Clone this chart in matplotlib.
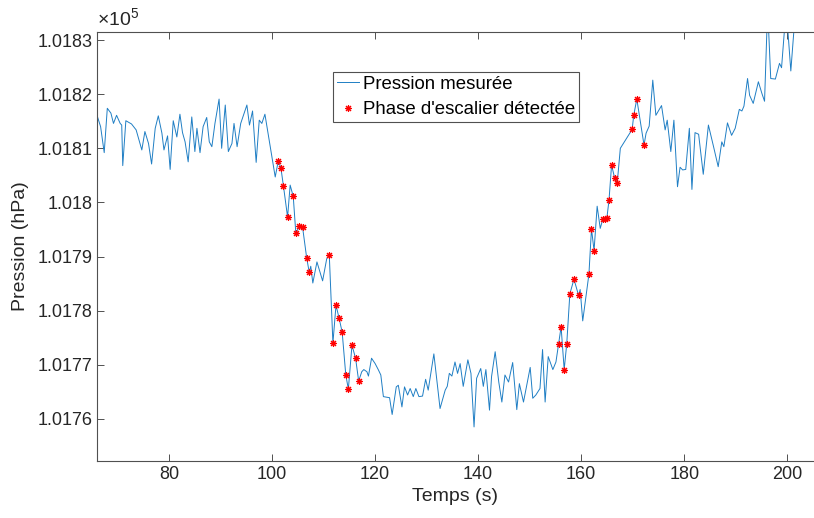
import numpy as np
import matplotlib
matplotlib.use("Agg")
import matplotlib.pyplot as plt
from matplotlib.ticker import MultipleLocator, FuncFormatter

plt.rcParams['font.family'] = ['Liberation Sans', 'DejaVu Sans']
plt.rcParams['mathtext.fontset'] = 'custom'
plt.rcParams['mathtext.rm'] = 'Liberation Sans'

# temps (s) et pression (Pa)
temps = [66.0, 66.7, 67.4, 68.0, 68.7, 69.2, 69.8, 70.5, 70.8, 71.0,
         71.6, 72.7, 73.6, 74.7, 75.3, 76.0, 76.6, 77.3, 77.9, 78.6,
         79.0, 79.7, 80.2, 80.8, 81.5, 82.1, 82.6, 83.1, 83.7, 84.4,
         85.0, 85.4, 86.0, 86.6, 87.3, 87.8, 88.3, 88.9, 89.7, 90.2,
         90.9, 91.5, 92.2, 92.6, 93.2, 93.9, 95.1, 95.6, 96.2, 96.9,
         97.5, 98.0, 98.6, 100.6, 101.2, 101.7, 102.2, 103.0, 103.5, 104.1,
         104.6, 105.3, 105.9, 106.7, 107.2, 107.5, 107.9, 108.7, 109.8, 110.6,
         111.1, 111.8, 112.4, 113.0, 113.6, 114.3, 114.8, 115.5, 116.2, 116.8,
         117.4, 117.8, 118.4, 118.7, 119.3, 120.0, 120.6, 121.1, 121.6, 122.8,
         123.3, 124.1, 124.5, 125.2, 125.7, 126.3, 126.8, 127.4, 127.9, 128.5,
         129.2, 129.8, 130.3, 131.4, 132.6, 133.6, 134.0, 134.4, 134.9, 135.5,
         136.0, 136.5, 137.1, 138.0, 138.6, 139.2, 139.7, 140.5, 141.0, 141.5,
         142.2, 142.6, 143.3, 144.0, 144.6, 145.2, 145.9, 146.7, 147.5, 148.0,
         148.8, 150.1, 150.6, 151.2, 152.0, 152.5, 153.0, 153.6, 154.5, 155.1,
         155.6, 156.1, 156.7, 157.2, 157.8, 158.6, 159.5, 159.8, 160.3, 161.5,
         162.0, 162.5, 163.1, 163.7, 164.2, 164.6, 165.0, 165.4, 165.9, 166.5,
         167.0, 167.6, 169.9, 170.2, 170.8, 172.2, 172.6, 173.2, 173.9, 174.5,
         175.6, 176.3, 176.7, 177.4, 178.0, 178.7, 179.2, 179.7, 180.3, 181.0,
         181.5, 182.1, 182.8, 183.7, 184.7, 185.7, 186.6, 187.3, 187.7, 188.4,
         189.2, 189.9, 190.7, 191.2, 191.6, 192.3, 192.7, 193.4, 194.4, 195.1,
         195.6, 196.2, 196.8, 197.7, 198.5, 198.9, 199.8, 200.7, 201.8]

pression = [101816.1, 101814.0, 101809.2, 101817.4, 101816.5, 101814.6, 101816.1, 101814.6, 101814.3, 101806.8,
            101815.1, 101814.5, 101813.4, 101809.7, 101813.1, 101810.9, 101807.1, 101813.7, 101816.0, 101812.8,
            101809.7, 101812.3, 101806.1, 101815.1, 101812.1, 101816.3, 101812.9, 101811.2, 101807.5, 101815.8,
            101809.4, 101813.7, 101809.2, 101814.0, 101815.7, 101811.2, 101810.3, 101814.6, 101819.1, 101810.0,
            101818.0, 101809.4, 101810.9, 101814.6, 101810.3, 101814.6, 101818.0, 101814.3, 101816.9, 101807.4,
            101815.2, 101814.6, 101816.3, 101804.7, 101807.7, 101806.4, 101803.0, 101797.3, 101803.2, 101801.1,
            101794.3, 101795.6, 101795.5, 101789.8, 101787.1, 101788.2, 101785.1, 101789.0, 101785.5, 101789.6,
            101790.2, 101774.0, 101781.0, 101778.6, 101776.0, 101768.1, 101765.5, 101773.6, 101771.2, 101767.0,
            101768.7, 101769.1, 101768.7, 101767.9, 101771.2, 101770.2, 101769.1, 101768.1, 101764.1, 101763.9,
            101760.8, 101765.9, 101766.2, 101762.2, 101765.9, 101764.4, 101765.6, 101764.1, 101765.6, 101764.1,
            101764.2, 101767.3, 101765.3, 101772.0, 101761.9, 101765.3, 101766.0, 101768.4, 101767.9, 101770.5,
            101768.4, 101770.2, 101766.0, 101770.9, 101768.4, 101758.5, 101767.5, 101769.3, 101766.0, 101769.1,
            101761.6, 101767.8, 101772.4, 101766.8, 101763.1, 101768.1, 101766.8, 101770.4, 101761.7, 101766.5,
            101763.1, 101769.5, 101763.8, 101764.4, 101765.6, 101772.8, 101763.1, 101771.5, 101769.1, 101770.5,
            101773.8, 101777.0, 101769.1, 101773.9, 101783.1, 101785.8, 101782.8, 101783.9, 101778.1, 101786.7,
            101795.1, 101791.1, 101799.3, 101795.2, 101796.9, 101797.0, 101797.2, 101800.4, 101806.9, 101804.5,
            101803.6, 101810.0, 101813.5, 101816.1, 101819.1, 101810.6, 101812.8, 101814.1, 101822.6, 101816.1,
            101817.9, 101813.4, 101815.2, 101809.4, 101815.2, 101802.9, 101806.5, 101806.0, 101806.1, 101813.7,
            101802.4, 101812.9, 101812.6, 101805.2, 101814.3, 101810.3, 101806.6, 101811.2, 101810.3, 101814.7,
            101812.4, 101813.7, 101817.2, 101816.9, 101817.8, 101822.9, 101819.8, 101818.3, 101822.3, 101820.1,
            101818.7, 101836.0, 101822.9, 101822.8, 101825.7, 101824.9, 101836.0, 101824.3, 101838.0]

# instants marques comme phase d'escalier
escalier_t = [101.2, 101.7, 102.2, 103.0, 104.1, 104.6, 105.3, 105.9, 106.7, 107.2,
              111.1, 111.8, 112.4, 113.0, 113.6, 114.3, 114.8, 115.5, 116.2, 116.8,
              155.6, 156.1, 156.7, 157.2, 157.8, 158.6, 159.5, 161.5, 162.0, 162.5,
              164.2, 164.6, 165.0, 165.4, 165.9, 166.5, 167.0, 169.9, 170.2, 170.8, 172.2]

temps = np.array(temps)
pression = np.array(pression)
masque = np.isin(temps, escalier_t)

fig = plt.figure(figsize=(8.14, 5.18), dpi=100)
ax = fig.add_axes([97 / 814, 57 / 518, 717 / 814, 429 / 518])

ax.plot(temps, pression, color='#1F7EC4', lw=0.7, label='Pression mesurée')
ax.plot(temps[masque], pression[masque], ls='none', marker=(8, 2, 0), ms=5,
        mew=0.8, color='red', label="Phase d'escalier détectée")

ax.set_xlim(66, 205.2)
ax.set_ylim(101752.2, 101831.5)
ax.xaxis.set_major_locator(MultipleLocator(20))
ax.yaxis.set_major_locator(MultipleLocator(10))
ax.yaxis.set_major_formatter(FuncFormatter(lambda v, p: f"{v / 1e5:.5g}"))

ax.tick_params(direction='in', length=5, width=0.7, colors='#505050',
               labelcolor='#262626', labelsize=13, top=True)
ax.spines['right'].set_visible(False)
for s in ['left', 'bottom', 'top']:
    ax.spines[s].set_color('#505050')
    ax.spines[s].set_linewidth(0.8)

ax.set_xlabel('Temps (s)', fontsize=14, color='#262626', labelpad=4)
ax.set_ylabel('Pression (hPa)', fontsize=14, color='#262626', labelpad=6)
ax.text(0, 1.004, r'$\times10^{5}$', transform=ax.transAxes, fontsize=14,
        color='#262626', ha='left', va='bottom')

leg = ax.legend(loc='upper left', bbox_to_anchor=(0.329, 0.907), fontsize=13.4,
                fancybox=False, framealpha=1, edgecolor='#505050',
                handlelength=1.2, handletextpad=0.2, labelspacing=0.45,
                borderpad=0.2, borderaxespad=0)
leg.get_frame().set_linewidth(0.8)

fig.savefig('out.png', dpi=100)
